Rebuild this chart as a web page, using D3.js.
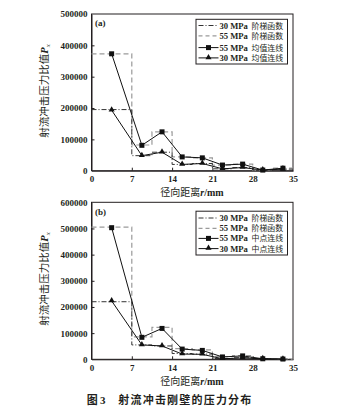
<!DOCTYPE html>
<html><head><meta charset="utf-8">
<script src="https://cdn.jsdelivr.net/npm/d3@7"></script>
<style>body{margin:0;background:#fff}svg{display:block}</style>
</head><body>
<script>
const xMid = [3.5, 8.75, 12.25, 15.75, 19.25, 22.75, 26.25, 29.75, 33.25];
const xEdges = [0, 7, 10.5, 14, 17.5, 21, 24.5, 28, 31.5, 35];
const xTicks = [0, 7, 14, 21, 28, 35];

// panel (a): mean lines
const a55 = [373000, 81000, 124000, 44000, 41000, 18000, 21000, 2000, 8000];
const a30 = [193000, 48000, 59000, 20000, 23000, 6000, 10000, 2000, 5000];
const a55Step = [373000, 82000, 124000, 44000, 41000, 18000, 21000, 2000, 8000];
const a30Step = [195000, 48000, 59000, 20000, 23000, 6000, 10000, 2000, 5000];
const aYTicks = [0, 100000, 200000, 300000, 400000, 500000];

// panel (b): midpoint lines
const b55 = [503000, 84000, 118000, 39000, 34000, 9000, 13000, 2000, 1000];
const b30 = [223000, 55000, 51000, 20000, 19000, 2000, 5000, 2000, 500];
const b55Step = [505000, 86000, 122000, 41000, 36000, 10000, 14000, 3000, 1000];
const b30Step = [220000, 55000, 51000, 22000, 20000, 3000, 6000, 2000, 500];
const bYTicks = [0, 100000, 200000, 300000, 400000, 500000, 600000];

const legendA = [["30 MPa", "阶梯函数"], ["55 MPa", "阶梯函数"], ["55 MPa", "均值连线"], ["30 MPa", "均值连线"]];
const legendB = [["30 MPa", "阶梯函数"], ["55 MPa", "阶梯函数"], ["55 MPa", "中点连线"], ["30 MPa", "中点连线"]];

const W = 348, H = 408;
const svg = d3.select("body").append("svg").attr("width", W).attr("height", H);
const serif = "'Liberation Serif','Times New Roman',serif";
const cjk = "'Noto Sans CJK SC','Noto Sans CJK JP',sans-serif";
const ink = "#231f20";

function panel(o) {
  const g = svg.append("g");
  const x = d3.scaleLinear().domain([0, 35]).range([91.5, 293]);
  const y = d3.scaleLinear().domain([0, o.ymax]).range([o.y0, o.y1]);

  // frame
  g.append("rect").attr("x", x(0)).attr("y", y(o.ymax)).attr("width", x(35) - x(0)).attr("height", y(0) - y(o.ymax))
    .attr("fill", "none").attr("stroke", ink).attr("stroke-width", 1);

  const xa = g.append("g").attr("transform", `translate(0,${y(0)})`)
    .call(d3.axisBottom(x).tickValues(xTicks).tickSizeInner(-3).tickSizeOuter(0).tickPadding(5).tickFormat(d3.format("d")));
  const ya = g.append("g").attr("transform", `translate(${x(0)},0)`)
    .call(d3.axisLeft(y).tickValues(o.yTicks).tickSizeInner(-3).tickSizeOuter(0).tickPadding(4).tickFormat(d3.format("d")));
  [xa, ya].forEach(a => {
    a.select(".domain").attr("stroke", ink);
    a.selectAll(".tick line").attr("stroke", ink);
    a.selectAll("text").attr("fill", ink).style("font-family", serif).style("font-weight", "bold").style("font-size", "9px");
  });
  xa.selectAll(".tick").filter(d => d === 35 || d === 0).select("line").remove();
  ya.selectAll(".tick").filter(d => d === 0 || d === o.ymax).select("line").remove();

  // steps
  const stepLine = d3.line().x(d => x(d[0])).y(d => y(d[1])).curve(d3.curveStepAfter);
  const stepPts = vals => xEdges.map((e, i) => [e, vals[Math.min(i, vals.length - 1)]]);
  g.append("path").datum(stepPts(o.s55)).attr("d", stepLine).attr("fill", "none")
    .attr("stroke", "#9a9a9a").attr("stroke-width", 1.2).attr("stroke-dasharray", "5,3");
  g.append("path").datum(stepPts(o.s30)).attr("d", stepLine).attr("fill", "none")
    .attr("stroke", "#333").attr("stroke-width", 1).attr("stroke-dasharray", "5,2,1,2");

  // lines
  const line = d3.line().x((d, i) => x(xMid[i])).y(d => y(d));
  g.append("path").datum(o.l55).attr("d", line).attr("fill", "none").attr("stroke", "#111").attr("stroke-width", 1);
  g.append("path").datum(o.l30).attr("d", line).attr("fill", "none").attr("stroke", "#111").attr("stroke-width", 1);
  g.selectAll(".sq").data(o.l55).join("rect").attr("x", (d, i) => x(xMid[i]) - 2.5).attr("y", d => y(d) - 2.5)
    .attr("width", 5).attr("height", 5).attr("fill", "#111");
  const tri = d3.symbol().type(d3.symbolTriangle).size(16);
  g.selectAll(".tr").data(o.l30).join("path").attr("d", tri)
    .attr("transform", (d, i) => `translate(${x(xMid[i])},${y(d) - 0.5})`).attr("fill", "#111");

  // panel label
  g.append("text").attr("x", 95).attr("y", o.labY).text(o.label).attr("fill", ink)
    .style("font-family", serif).style("font-weight", "bold").style("font-size", "9px");

  // y label
  const yl = g.append("text").attr("transform", `translate(48,${o.ylabC}) rotate(-90)`).attr("text-anchor", "middle")
    .attr("fill", ink).style("font-family", cjk).style("font-size", "10.5px");
  yl.append("tspan").text("射流冲击压力比值");
  yl.append("tspan").text("P").style("font-family", serif).style("font-style", "italic").style("font-weight", "bold");
  yl.append("tspan").text("x").attr("dy", 2).style("font-family", serif).style("font-style", "italic").style("font-size", "7px");

  // x label
  const xl = g.append("text").attr("x", 192).attr("y", o.xlabY).attr("text-anchor", "middle").attr("fill", ink)
    .style("font-family", cjk).style("font-size", "10px");
  xl.append("tspan").text("径向距离");
  xl.append("tspan").text("r").style("font-family", serif).style("font-style", "italic").style("font-weight", "bold");
  xl.append("tspan").text("/mm").style("font-family", serif).style("font-weight", "bold");

  // legend
  const lg = g.append("g");
  lg.append("rect").attr("x", 196).attr("y", o.legTop).attr("width", 91.5).attr("height", o.legH)
    .attr("fill", "#fff").attr("stroke", ink).attr("stroke-width", 1);
  o.legend.forEach((it, i) => {
    const ry = o.legRows[i];
    const ln = lg.append("line").attr("x1", 198.5).attr("x2", 218.5).attr("y1", ry).attr("y2", ry).attr("stroke-width", 1);
    if (i === 0) ln.attr("stroke", "#333").attr("stroke-dasharray", "5,2,1,2");
    else if (i === 1) ln.attr("stroke", "#9a9a9a").attr("stroke-width", 1.2).attr("stroke-dasharray", "4,3");
    else ln.attr("stroke", "#111");
    if (i === 2) lg.append("rect").attr("x", 206).attr("y", ry - 2.5).attr("width", 5).attr("height", 5).attr("fill", "#111");
    if (i === 3) lg.append("path").attr("d", tri).attr("transform", `translate(208.5,${ry - 0.5})`).attr("fill", "#111");
    lg.append("text").attr("x", 219.5).attr("y", ry + 3).text(it[0]).attr("fill", ink)
      .style("font-family", serif).style("font-weight", "bold").style("font-size", "8.6px");
    lg.append("text").attr("x", 251.5).attr("y", ry + 3).text(it[1]).attr("fill", ink)
      .style("font-family", cjk).style("font-size", "7.9px");
  });
}

panel({ ymax: 500000, y0: 170.7, y1: 14, yTicks: aYTicks, l55: a55, l30: a30, s55: a55Step, s30: a30Step,
  label: "(a)", labY: 26, ylabC: 91, xlabY: 195.5, legTop: 19.3, legH: 44.7, legRows: [25.5, 35.8, 47.6, 57.9], legend: legendA });
panel({ ymax: 600000, y0: 359.3, y1: 202.3, yTicks: bYTicks, l55: b55, l30: b30, s55: b55Step, s30: b30Step,
  label: "(b)", labY: 215, ylabC: 279, xlabY: 384.5, legTop: 211.2, legH: 43.8, legRows: [218, 228.3, 238.4, 248.6], legend: legendB });

// caption
const cap = svg.append("text").attr("y", 403.5).attr("fill", ink).style("font-family", cjk).style("font-size", "11px").style("font-weight", "bold");
cap.append("tspan").attr("x", 86.7).text("图");
cap.append("tspan").attr("x", 100).text("3").style("font-family", serif);
cap.append("tspan").attr("x", 118.3).text("射流冲击刚壁的压力分布").attr("textLength", 133).attr("lengthAdjust", "spacing");
</script>
</body></html>
